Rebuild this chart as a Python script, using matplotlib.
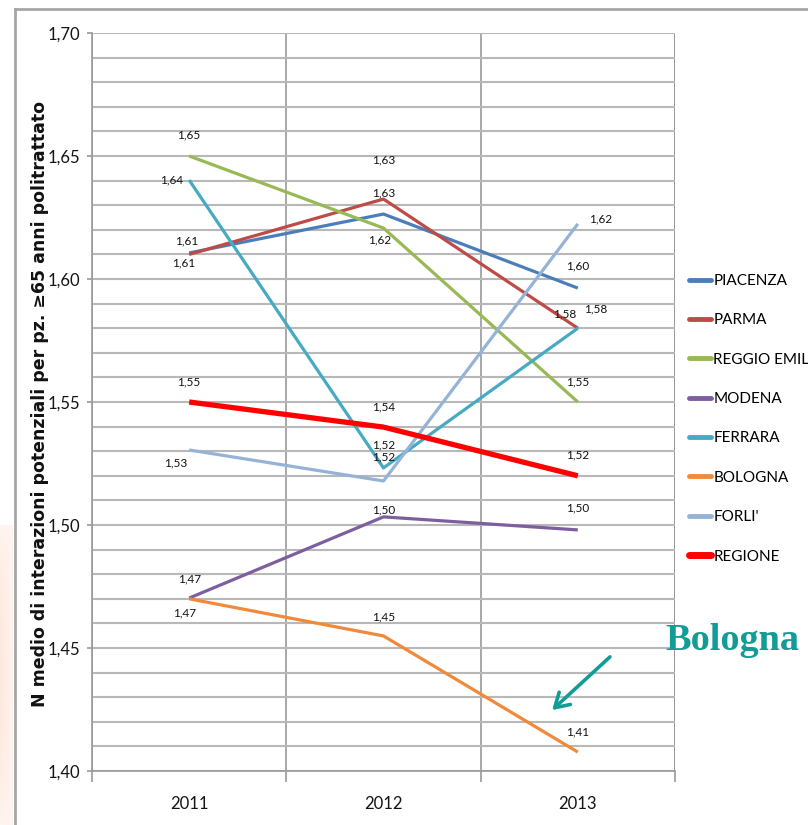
import numpy as np
import matplotlib
matplotlib.use("Agg")
import matplotlib.pyplot as plt
from matplotlib.lines import Line2D
from matplotlib.patches import FancyArrowPatch
from matplotlib.ticker import MultipleLocator, FixedLocator, FuncFormatter

# --- data -------------------------------------------------------------
years = ["2011", "2012", "2013"]
series_names = ["PIACENZA", "PARMA", "REGGIO EMILIA", "MODENA",
                "FERRARA", "BOLOGNA", "FORLI'", "REGIONE"]
piacenza = [1.6106, 1.6264, 1.5963]
parma = [1.6100, 1.6325, 1.5800]
reggio_emilia = [1.6500, 1.6207, 1.5500]
modena = [1.4703, 1.5033, 1.4980]
ferrara = [1.6402, 1.5232, 1.5800]
bologna = [1.4700, 1.4549, 1.4077]
forli = [1.5305, 1.5179, 1.6224]
regione = [1.5500, 1.5398, 1.5200]
y_ticks = [1.40, 1.45, 1.50, 1.55, 1.60, 1.65, 1.70]
y_label = "N medio di interazioni potenziali per pz. \u226565 anni politrattato"
callout = "Bologna"

values = [piacenza, parma, reggio_emilia, modena, ferrara, bologna, forli, regione]

# --- styles -----------------------------------------------------------
colors = ["#4a7ebb", "#be4b48", "#98b954", "#7d5fa0",
          "#46aac5", "#f08a3a", "#95b3d7", "#ff0000"]
widths = [2.3, 2.3, 2.3, 2.3, 2.3, 2.3, 2.3, 3.8]

# label offsets (pixels, right/down positive) per series and year
label_offsets = [
    [(-5, 10), (0, -54), (0, -22)],     # Piacenza
    [(-2, -13), (0, -6), (-13, -14)],   # Parma
    [(0, -21), (-4, 12), (0, -20)],     # Reggio Emilia
    [(0, -19), (0, -7), (0, -22)],      # Modena
    [(-18, 0), (0, -23), (18, -19)],    # Ferrara
    [(-5, 14), (0, -19), (0, -20)],     # Bologna
    [(-13, 13), (0, -24), (23, -5)],    # Forli'
    [(0, -20), (0, -20), (0, -21)],     # Regione
]

SANS = ["Lato", "DejaVu Sans"]
W, H = 808, 825

fig = plt.figure(figsize=(W / 100, H / 100), dpi=100)
fig.patch.set_facecolor("white")

# faint reddish haze along the left edge of the slide
haze = fig.add_axes([0, 0, 13 / W, 300 / H])
grad = (np.sin(np.linspace(0, np.pi, 200))[:, None] ** 0.7
        * np.linspace(1, 0.1, 20)[None, :])
haze.imshow(grad, cmap="Reds", vmin=0, vmax=12, aspect="auto", origin="lower")
haze.axis("off")

ax = fig.add_axes([92 / W, 1 - 771 / H, (675 - 92) / W, (771 - 33) / H])
x = list(range(len(years)))
ax.set_xlim(-0.5, len(years) - 0.5)
ax.set_ylim(y_ticks[0], y_ticks[-1])

# grid: horizontal every 0.01, vertical at category boundaries
ax.yaxis.set_major_locator(FixedLocator(y_ticks))
ax.yaxis.set_minor_locator(MultipleLocator(0.01))
ax.grid(which="minor", axis="y", color="#b8b8b8", lw=1.5, zorder=0)
ax.grid(which="major", axis="y", color="#b8b8b8", lw=1.5, zorder=0)
ax.xaxis.set_major_locator(FixedLocator(x))
ax.xaxis.set_minor_locator(FixedLocator([i + 0.5 for i in range(-1, len(years))]))
ax.grid(which="minor", axis="x", color="#999999", lw=1.2, zorder=0)
ax.set_axisbelow(True)

ax.set_xticklabels(years)
ax.yaxis.set_major_formatter(FuncFormatter(lambda v, p: f"{v:.2f}".replace(".", ",")))
ax.tick_params(axis="x", which="major", length=0, pad=18, labelsize=12,
               labelcolor="#141414")
ax.tick_params(axis="x", which="minor", length=8, width=1.2, color="#999999")
ax.tick_params(axis="y", which="major", length=3.6, width=1.2, color="#999999",
               pad=5, labelsize=12, labelcolor="#141414")
ax.tick_params(axis="y", which="minor", length=0)
for lab in ax.get_xticklabels() + ax.get_yticklabels():
    lab.set_family(SANS)

for side in ["top", "right"]:
    ax.spines[side].set_visible(False)
for side in ["left", "bottom"]:
    ax.spines[side].set_color("#999999")
    ax.spines[side].set_linewidth(1.2)
# right boundary line of the plot area
ax.axvline(len(years) - 0.5, color="#999999", lw=1.4, zorder=0)

# --- series -----------------------------------------------------------
handles = []
for name, vals, c, lw, offs in zip(series_names, values, colors, widths, label_offsets):
    ax.plot(x, vals, color=c, lw=lw, solid_capstyle="butt", zorder=3)
    handles.append(Line2D([], [], color=c, lw=lw + 1.2, solid_capstyle="round"))
    for xi, v, (dx, dy) in zip(x, vals, offs):
        ax.annotate(f"{v:.2f}".replace(".", ","), (xi, v),
                    xytext=(dx * 0.72, -dy * 0.72), textcoords="offset points",
                    ha="center", va="center", fontsize=8.5, family=SANS,
                    color="#111111", zorder=4)

fig.legend(handles, series_names, loc="upper left",
           bbox_to_anchor=(689 / W, 1 - 274 / H), frameon=False,
           prop={"family": SANS, "size": 11}, handlelength=1.45,
           handletextpad=0.15, labelspacing=1.66, borderpad=0, borderaxespad=0)

# axis title
fig.text(40 / W, 1 - 404 / H, y_label, rotation=90, ha="center", va="center",
         fontsize=12.5, fontweight="bold", family=["DejaVu Sans"],
         color="#111111")

# outer chart frame
frame_kw = dict(color="#a6a6a6", lw=2, transform=fig.transFigure)
fig.add_artist(Line2D([15 / W, 15 / W], [0, 1 - 9 / H], **frame_kw))
fig.add_artist(Line2D([15 / W, 1], [1 - 9 / H, 1 - 9 / H], **frame_kw))

# callout
teal = "#129c96"
fig.text(665 / W, 1 - 650 / H, callout, ha="left", va="baseline",
         fontsize=27.5, fontweight="bold", family=["Liberation Serif", "DejaVu Serif"],
         color=teal)
fig.add_artist(FancyArrowPatch(
    (612 / W, 1 - 655 / H), (550 / W, 1 - 712 / H), transform=fig.transFigure,
    arrowstyle="->,head_length=10,head_width=6", color=teal, lw=2.6,
    mutation_scale=1))

fig.savefig("out.png", dpi=100, facecolor="white")
